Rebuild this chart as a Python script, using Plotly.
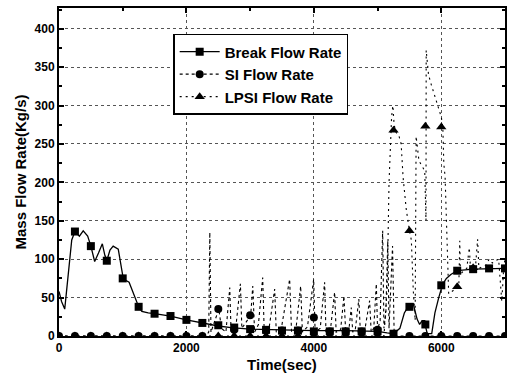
import plotly.graph_objects as go

# ---------------- data ----------------
break_t = [0, 40, 90, 150, 200, 250, 320, 380, 450, 500, 560, 620, 680, 720, 750, 800, 850,
           930, 980, 1010, 1100, 1150, 1250, 1300, 1400, 1500, 1750, 2000, 2250, 2400, 2500,
           2700, 3000, 3500, 4000, 4500, 5000, 5150, 5250, 5350, 5420, 5480, 5560, 5620, 5660,
           5700, 5740, 5760, 5780, 5850, 5900, 5960, 6020, 6080, 6150, 6250, 6500, 7000]
break_v = [58, 45, 35, 90, 125, 136, 130, 137, 130, 117, 97, 108, 120, 105, 98, 112, 117,
           113, 85, 74, 70, 60, 38, 32, 30, 29, 26, 21, 17, 15, 13,
           11, 9, 8, 7, 7, 6, 4, 3, 10, 30, 38, 42, 22, 15,
           20, 20, 10, 3, 3, 30, 50, 67, 75, 80, 85, 87, 88]
break_mk_t = [250, 500, 750, 1000, 1250, 1500, 1750, 2000, 2250, 2500, 2750, 3000, 3250, 3500,
              3750, 4000, 4250, 4500, 4750, 5000, 5250, 5500, 5750, 6000, 6250, 6500, 6750, 7000]
break_mk_v = [136, 117, 98, 75, 38, 29, 26, 21, 17, 14, 11, 9, 8, 7,
              7, 6, 6, 6, 6, 6, 3, 38, 15, 66, 85, 87, 88, 88]

si_t = [0, 2300, 2350, 2367, 2385, 2450, 2508, 2550, 2620, 2680, 2700, 2780, 2847, 2870, 2950,
        3009, 3041, 3070, 3130, 3197, 3220, 3300, 3385, 3410, 3500, 3620, 3650, 3720, 3793,
        3820, 3900, 3997, 4020, 4100, 4169, 4190, 4260, 4326, 4350, 4420, 4472, 4500, 4550,
        4587, 4610, 4650, 4706, 4730, 4800, 4875, 4900, 4940, 4980, 5000, 5040, 5080, 5100,
        5130, 5160, 5180, 5235, 5260, 5300, 7000]
si_v = [0, 0, 5, 135, 5, 20, 35, 10, 5, 63, 8, 15, 68, 10, 20,
        27, 65, 5, 15, 76, 8, 12, 61, 5, 15, 74, 5, 10, 65,
        5, 12, 74, 5, 10, 70, 5, 8, 57, 5, 8, 52, 5, 8,
        37, 5, 8, 48, 5, 8, 46, 5, 10, 68, 8, 20, 137, 10,
        30, 124, 10, 117, 5, 0, 0]
si_mk_t = [0, 250, 500, 750, 1000, 1250, 1500, 1750, 2000, 2250, 2500, 2750, 3000, 3250, 3500,
           3750, 4000, 4250, 4500, 4750, 5000, 5500, 5750, 6000, 6250, 6500, 6750, 7000]
si_mk_v = [0, 0, 0, 0, 0, 0, 0, 0, 0, 0, 35, 8, 27, 7, 7,
           7, 24, 6, 6, 6, 8, 0, 0, 0, 0, 0, 0, 0]

lpsi_t = [0, 5100, 5150, 5180, 5220, 5240, 5260, 5290, 5330, 5370, 5400, 5420, 5450, 5500,
          5530, 5560, 5590, 5605, 5650, 5740, 5760, 5763, 5800, 5840, 5900, 5950, 6000,
          6024, 6040, 6060, 6116, 6200, 6275, 6290, 6300, 6350, 6400, 6440, 6460, 6536,
          6570, 6590, 6650, 6700, 6750, 6800, 6850, 6900, 6950, 6980, 7000]
lpsi_v = [0, 0, 60, 200, 285, 300, 275, 265, 262, 250, 207, 190, 165, 137,
          125, 60, 20, 260, 228, 215, 150, 372, 340, 328, 311, 300, 285,
          272, 224, 207, 55, 60, 64, 124, 80, 85, 88, 115, 86, 89,
          126, 88, 90, 92, 100, 95, 98, 100, 45, 90, 100]
lpsi_mk_t = [0, 250, 500, 750, 1000, 1250, 1500, 1750, 2000, 2250, 2500, 2750, 3000, 3250,
             3500, 3750, 4000, 4250, 4500, 4750, 5000, 5250, 5500, 5750, 6000, 6250, 6500]
lpsi_mk_v = [0, 0, 0, 0, 0, 0, 0, 0, 0, 0, 0, 0, 0, 0,
             0, 0, 0, 0, 0, 0, 0, 268, 137, 273, 272, 64, 89]

names = ["Break Flow Rate", "SI Flow Rate", "LPSI Flow Rate"]
x_ticks = [0, 2000, 4000, 6000]
y_ticks = [0, 50, 100, 150, 200, 250, 300, 350, 400]

# ---------------- figure ----------------
fig = go.Figure()
styles = [
    dict(dash="solid", width=1.3, symbol="square", size=8),
    dict(dash="dot", width=1.1, symbol="circle", size=8),
    dict(dash="2px,4px", width=1.1, symbol="triangle-up", size=9),
]
series = [
    (break_t, break_v, break_mk_t, break_mk_v),
    (si_t, si_v, si_mk_t, si_mk_v),
    (lpsi_t, lpsi_v, lpsi_mk_t, lpsi_mk_v),
]
for name, st, (lt, lv, mt, mv) in zip(names, styles, series):
    fig.add_trace(go.Scatter(x=lt, y=lv, mode="lines", showlegend=False,
                             line=dict(color="black", width=st["width"], dash=st["dash"])))
    fig.add_trace(go.Scatter(x=mt, y=mv, mode="markers", showlegend=False,
                             marker=dict(color="black", symbol=st["symbol"], size=st["size"])))
    fig.add_trace(go.Scatter(x=[None], y=[None], mode="lines+markers", name=name,
                             line=dict(color="black", width=st["width"], dash=st["dash"]),
                             marker=dict(color="black", symbol=st["symbol"], size=st["size"])))

axis_common = dict(
    showline=True, linecolor="black", linewidth=2, mirror="allticks",
    ticks="inside", ticklen=5, tickwidth=1.5, tickcolor="black",
    showgrid=True, gridcolor="#555", griddash="dot", gridwidth=1,
    zeroline=False, automargin=False,
    tickfont=dict(family="Liberation Sans", size=12, color="black", weight="bold"),
)
fig.update_xaxes(range=[0, 7000], tickvals=x_ticks,
                 minor=dict(dtick=1000, ticklen=3, ticks="inside", tickcolor="black", showgrid=False),
                 title=dict(text="Time(sec)", standoff=5,
                            font=dict(family="Liberation Sans", size=15, color="black", weight="bold")),
                 **axis_common)
fig.update_yaxes(range=[0, 427], tickvals=y_ticks,
                 minor=dict(dtick=25, ticklen=3, ticks="inside", tickcolor="black", showgrid=False),
                 title=dict(text="Mass Flow Rate(Kg/s)", standoff=4,
                            font=dict(family="Liberation Sans", size=15, color="black", weight="bold")),
                 **axis_common)

fig.update_layout(
    width=508, height=374,
    margin=dict(l=59, r=3, t=8, b=38),
    paper_bgcolor="white", plot_bgcolor="white",
    legend=dict(x=0.256, y=0.921, xanchor="left", yanchor="top",
                bgcolor="white", bordercolor="black", borderwidth=1.5,
                font=dict(family="Liberation Sans", size=15, color="black", weight="bold"),
                itemwidth=40, tracegroupgap=0),
)
fig.write_html("out.html")
